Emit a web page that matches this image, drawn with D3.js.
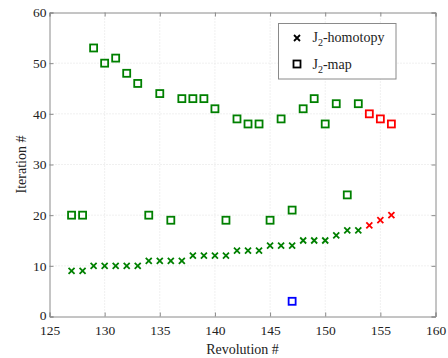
<!DOCTYPE html>
<html>
<head>
<meta charset="utf-8">
<script src="https://cdn.jsdelivr.net/npm/d3@7"></script>
<style>
  html, body { margin: 0; padding: 0; background: #fff; }
  svg { display: block; font-family: "Liberation Serif", "Times New Roman", serif; }
</style>
</head>
<body>
<svg id="chart" width="448" height="358"></svg>
<script>
// Revolution numbers and iteration counts for each method
const revolutions = [127,128,129,130,131,132,133,134,135,136,137,138,139,140,141,142,143,144,145,146,147,148,149,150,151,152,153,154,155,156];
const homotopyIter = [9,9,10,10,10,10,10,11,11,11,11,12,12,12,12,13,13,13,14,14,14,15,15,15,16,17,17,18,19,20];
const mapIter      = [20,20,53,50,51,48,46,20,44,19,43,43,43,41,19,39,38,38,19,39,21,41,43,38,42,24,42,40,39,38];
// Status colour per revolution ("g" converged, "r" failed)
const status       = ["g","g","g","g","g","g","g","g","g","g","g","g","g","g","g","g","g","g","g","g","g","g","g","g","g","g","g","r","r","r"];
// Extra J2-map run at revolution 147
const extraRev = [147];
const extraIter = [3];

const xTicks = [125,130,135,140,145,150,155,160];
const yTicks = [0,10,20,30,40,50,60];

const colorOf = { g: "#008000", r: "#ff0000", b: "#0000ff" };

const svg = d3.select("#chart");
const margin = { left: 49.5, right: 12.5, top: 12.5, bottom: 41.5 };
const W = 448, H = 358;
const x = d3.scaleLinear().domain([125, 160]).range([margin.left, W - margin.right]);
const y = d3.scaleLinear().domain([0, 60]).range([H - margin.bottom, margin.top]);

const axisCol = "#8a8a8a";

// grid
const grid = svg.append("g");
grid.selectAll(".gx").data(xTicks.slice(1, -1)).enter().append("line")
  .attr("x1", d => x(d)).attr("x2", d => x(d))
  .attr("y1", y(0)).attr("y2", y(60))
  .attr("stroke", "#e0e0e0").attr("stroke-width", 1).attr("stroke-dasharray", "1,2");
grid.selectAll(".gy").data(yTicks.slice(1, -1)).enter().append("line")
  .attr("x1", x(125)).attr("x2", x(160))
  .attr("y1", d => y(d)).attr("y2", d => y(d))
  .attr("stroke", "#e0e0e0").attr("stroke-width", 1).attr("stroke-dasharray", "1,2");

// axes with inward ticks
const xAxis = d3.axisBottom(x).tickValues(xTicks).tickSize(-4).tickPadding(9).tickFormat(d3.format("d"));
const yAxis = d3.axisLeft(y).tickValues(yTicks).tickSize(-4).tickPadding(3).tickFormat(d3.format("d"));
const gx = svg.append("g").attr("transform", `translate(0,${y(0)})`).call(xAxis);
const gy = svg.append("g").attr("transform", `translate(${x(125)},0)`).call(yAxis);
const gxTop = svg.append("g").attr("transform", `translate(0,${y(60)})`).call(d3.axisTop(x).tickValues(xTicks).tickSize(-4).tickFormat(""));
const gyRight = svg.append("g").attr("transform", `translate(${x(160)},0)`).call(d3.axisRight(y).tickValues(yTicks).tickSize(-4).tickFormat(""));
[gx, gy, gxTop, gyRight].forEach(g => {
  g.selectAll("path").attr("stroke", axisCol).attr("stroke-width", 1);
  g.selectAll("line").attr("stroke", axisCol).attr("stroke-width", 1);
  g.selectAll("text").attr("fill", "#222").style("font-size", "13.5px").style("font-family", '"Liberation Serif", serif');
});
// lift the "0" label a touch so it clears the x tick labels below
gy.selectAll(".tick text").filter(d => d === 0).attr("dy", "0.2em");

// axis titles
svg.append("text").attr("x", (x(125) + x(160)) / 2).attr("y", 354)
  .attr("text-anchor", "middle").style("font-size", "14px").attr("fill", "#222").text("Revolution #");
svg.append("text").attr("transform", `translate(26,${(y(0) + y(60)) / 2}) rotate(-90)`)
  .attr("text-anchor", "middle").style("font-size", "14px").attr("fill", "#222").text("Iteration #");

// marker helpers
function crossPath(s) { return `M${-s},${-s}L${s},${s}M${-s},${s}L${s},${-s}`; }
const sq = 7;

const pts = revolutions.map((r, i) => ({ r, h: homotopyIter[i], m: mapIter[i], c: colorOf[status[i]] }));

// J2-map squares
svg.append("g").selectAll("rect").data(pts).enter().append("rect")
  .attr("x", d => x(d.r) - sq / 2).attr("y", d => y(d.m) - sq / 2)
  .attr("width", sq).attr("height", sq)
  .attr("fill", "none").attr("stroke", d => d.c).attr("stroke-width", 1.8);
svg.append("g").selectAll("rect").data(extraRev.map((r, i) => ({ r, m: extraIter[i] }))).enter().append("rect")
  .attr("x", d => x(d.r) - sq / 2).attr("y", d => y(d.m) - sq / 2)
  .attr("width", sq).attr("height", sq)
  .attr("fill", "none").attr("stroke", colorOf.b).attr("stroke-width", 1.8);

// J2-homotopy crosses
svg.append("g").selectAll("path").data(pts).enter().append("path")
  .attr("transform", d => `translate(${x(d.r)},${y(d.h)})`)
  .attr("d", crossPath(3))
  .attr("stroke", d => d.c).attr("stroke-width", 1.8).attr("fill", "none");

// legend
const lg = svg.append("g");
lg.append("rect").attr("x", 278.5).attr("y", 23.5).attr("width", 117.5).attr("height", 55.5)
  .attr("fill", "#fff").attr("stroke", axisCol).attr("stroke-width", 1);
lg.append("path").attr("transform", "translate(297,38)").attr("d", crossPath(3))
  .attr("stroke", "#000").attr("stroke-width", 1.8);
lg.append("rect").attr("x", 297 - sq / 2).attr("y", 64 - sq / 2).attr("width", sq).attr("height", sq)
  .attr("fill", "none").attr("stroke", "#000").attr("stroke-width", 1.8);
const legendLabels = ["-homotopy", "-map"];
legendLabels.forEach((lab, i) => {
  const t = lg.append("text").attr("x", 312.5).attr("y", 42 + i * 26.5)
    .style("font-size", "14px").attr("fill", "#222");
  t.append("tspan").text("J");
  t.append("tspan").attr("dy", 4).style("font-size", "10px").text("2");
  t.append("tspan").attr("dy", -4).text(lab);
});
</script>
</body>
</html>
